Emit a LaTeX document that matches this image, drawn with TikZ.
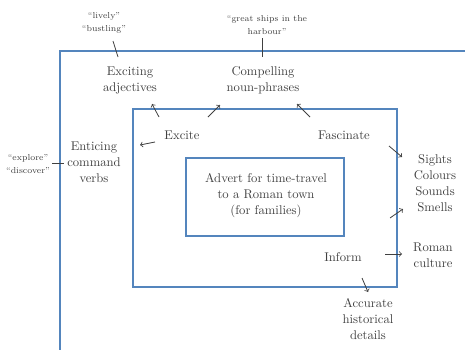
\documentclass[tikz,border=0pt]{standalone}
\usepackage{tikz}
\usepackage{amsmath}
\usetikzlibrary{positioning}
\definecolor{boxblue}{rgb}{0.33, 0.52, 0.74}
\definecolor{inkgray}{rgb}{0.25, 0.25, 0.25}

\tikzset{
  lbl/.style={anchor=center, inner sep=0.75pt, align=center, text=inkgray, font=\fontsize{9.5}{12}\selectfont},
  quote/.style={anchor=center, inner sep=0.75pt, align=center, text=inkgray, font=\fontsize{6.5}{10}\selectfont},
  frame/.style={draw=boxblue, line width=1.2pt},
  pen/.style={draw=inkgray, line width=0.6pt},
  penarrow/.style={pen, ->}
}

\begin{document}
\begin{tikzpicture}[x=0.75pt,y=0.75pt,yscale=-1,xscale=1]
\useasboundingbox (0,0) rectangle (465,350);

%Shape: Corner of outer frame
\draw [frame] (60,350) -- (60,51) -- (465,51) ;
%Shape: Rectangle middle
\draw [frame] (133,109) rectangle (397,287) ;
%Shape: Rectangle inner
\draw [frame] (186,158) rectangle (344,236) ;

% Text Node
\draw (266,196) node (advert) [lbl] {Advert for time-travel\\to a Roman town\\(for families)};
% Text Node
\draw (130,80) node (adj) [lbl] {Exciting\\adjectives};
% Text Node
\draw (263,80) node (noun) [lbl] {Compelling\\noun-phrases};
% Text Node
\draw (94,162) node (verbs) [lbl] {Enticing\\command\\verbs};
% Text Node
\draw (182,135) node (excite) [lbl] {Excite};
% Text Node
\draw (344,135) node (fascinate) [lbl] {Fascinate};
% Text Node
\draw (343,257) node (inform) [lbl] {Inform};
% Text Node
\draw (435,183) node (senses) [lbl] {Sights\\Colours\\Sounds\\Smells};
% Text Node
\draw (433,255) node (culture) [lbl] {Roman\\culture};
% Text Node
\draw (368,319) node (details) [lbl] {Accurate\\historical\\details};
% Text Node
\draw (104,23) node (qadj) [quote] {``lively''\\``bustling''};
% Text Node
\draw (267,25) node (qnoun) [quote] {``great ships in the\\harbour''};
% Text Node
\draw (28,164) node (qverbs) [quote] {``explore''\\``discover''};

% Arrow ends
\coordinate (ea1) at (159,117); \coordinate (ea2) at (152,104);
\coordinate (eb1) at (208,117); \coordinate (eb2) at (220,105);
\coordinate (ec1) at (155,142); \coordinate (ec2) at (140,145);
\coordinate (fa1) at (310,117); \coordinate (fa2) at (297,104);
\coordinate (fb1) at (389,146); \coordinate (fb2) at (402,157);
\coordinate (ia1) at (390,218); \coordinate (ia2) at (403,209);
\coordinate (ib1) at (385,254); \coordinate (ib2) at (402,254);
\coordinate (ic1) at (362,278); \coordinate (ic2) at (368,292);
% Tick ends
\coordinate (ta1) at (113,41); \coordinate (ta2) at (118,57);
\coordinate (tb1) at (262,38); \coordinate (tb2) at (262,57);
\coordinate (tc1) at (52,163); \coordinate (tc2) at (64,163);

%Arrows
\draw [penarrow] (ea1) -- (ea2) ;
\draw [penarrow] (eb1) -- (eb2) ;
\draw [penarrow] (ec1) -- (ec2) ;
\draw [penarrow] (fa1) -- (fa2) ;
\draw [penarrow] (fb1) -- (fb2) ;
\draw [penarrow] (ia1) -- (ia2) ;
\draw [penarrow] (ib1) -- (ib2) ;
\draw [penarrow] (ic1) -- (ic2) ;
%Ticks
\draw [pen] (ta1) -- (ta2) ;
\draw [pen] (tb1) -- (tb2) ;
\draw [pen] (tc1) -- (tc2) ;

\end{tikzpicture}
\end{document}
